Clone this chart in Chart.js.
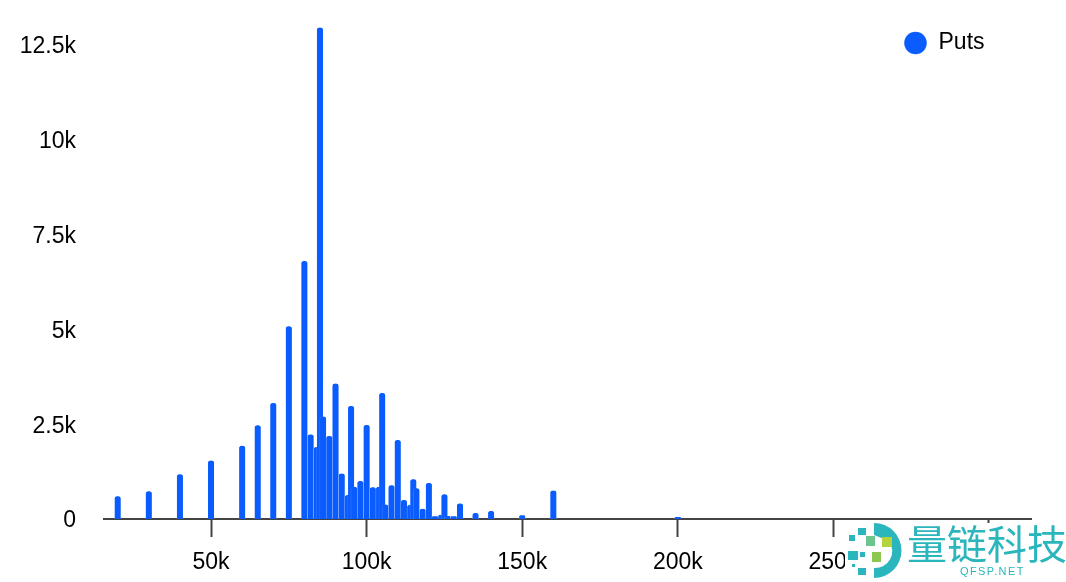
<!DOCTYPE html>
<html><head><meta charset="utf-8">
<script src="https://cdn.jsdelivr.net/npm/chart.js@4"></script>
<style>
html,body{margin:0;padding:0;background:#fff;overflow:hidden}
#wrap{position:relative;width:1066px;height:582px}
#wm{position:absolute;left:845px;top:523px;width:221px;height:59px;background:#fff}
#wm svg{position:absolute;left:1px;top:0}
#cn{position:absolute;left:62px;top:-8px;font:400 40px/54px "Noto Sans CJK SC";color:#2ab6bc;white-space:nowrap}
#en{position:absolute;left:115px;top:41px;font:400 11px/14px "Liberation Sans";letter-spacing:1.4px;color:#2ab6bc;white-space:nowrap}
</style></head><body>
<div id="wrap"><canvas id="c" width="1066" height="582"></canvas>
<div id="wm">
<svg width="60" height="59" viewBox="0 0 60 59">
<path d="M28 0 A27 27 0 0 1 28 55 L28 45 A17 17 0 0 0 43 18 L28 12 Z" fill="#2ab6bc"/>
<rect x="12" y="5" width="8" height="7" fill="#2ab6bc"/>
<rect x="3" y="12" width="6" height="6" fill="#2ab6bc"/>
<rect x="20" y="13" width="9" height="10" fill="#6cc58a"/>
<rect x="36" y="14" width="10" height="10" fill="#b5d33d"/>
<rect x="2" y="28" width="10" height="9" fill="#2ab6bc"/>
<rect x="14" y="29" width="5" height="5" fill="#2ab6bc"/>
<rect x="26" y="29" width="9" height="10" fill="#8cc850"/>
<rect x="12" y="45" width="8" height="7" fill="#2ab6bc"/>
<rect x="6" y="41" width="3" height="3" fill="#2ab6bc"/>
</svg>
<div id="cn">量链科技</div><div id="en">QFSP.NET</div>
</div></div>
<script>
const strikes=[20,30,40,50,60,65,70,75,80,82,84,85,86,88,90,92,94,95,96,98,100,102,104,105,106,108,110,112,114,115,116,118,120,122,124,125,126,128,130,135,140,150,160,200];
const puts=[600,730,1180,1540,1930,2470,3060,5080,6800,2230,1900,12960,2700,2190,3570,1200,630,2980,850,1000,2480,840,850,3320,380,890,2080,500,370,1050,810,270,950,70,110,650,80,70,410,160,210,100,750,50];
const seriesName='Puts';
const xTickValues=[50000,100000,150000,200000,250000,300000];
const yTickValues=[0,2500,5000,7500,10000,12500];
const points=strikes.map((s,i)=>({x:s*1000,y:puts[i]}));
const fmt=v=>v===0?'0':(v/1000)+'k';
const setTicks=vals=>s=>{s.ticks=vals.map(value=>({value}));};
Chart.defaults.font.family='"Liberation Sans"';
new Chart(document.getElementById('c'),{
 type:'bar',
 data:{datasets:[{label:seriesName,data:points,backgroundColor:'#0a5cff',borderColor:'rgba(255,255,255,0.35)',borderWidth:{left:0.5,right:0.5,top:0,bottom:0},
   barThickness:6.4,borderRadius:{topLeft:3,topRight:3,bottomLeft:0,bottomRight:0},borderSkipped:'bottom'}]},
 plugins:[{id:'legendPos',afterLayout(ch){ch.legend.left=892;ch.legend.right=1020;ch.legend.top=19.5;ch.legend.bottom=66;}}],
 options:{responsive:false,animation:false,devicePixelRatio:1,
  layout:{padding:{left:0,top:26,right:35,bottom:0}},
  plugins:{tooltip:{enabled:false},
   legend:{position:'chartArea',align:'start',labels:{usePointStyle:true,pointStyle:'circle',font:{size:23},color:'#000',padding:12,boxWidth:23,boxHeight:16}}},
  scales:{
   x:{type:'linear',min:15600,max:313500,offset:false,afterBuildTicks:setTicks(xTickValues),
    ticks:{callback:fmt,color:'#000',font:{size:23},padding:12,maxRotation:0,autoSkip:false},
    grid:{display:true,offset:false,drawOnChartArea:false,drawTicks:true,tickLength:18,tickWidth:2,tickColor:'#444'},
    border:{display:true,color:'#444',width:2},
    afterFit(s){s.height=63;s.paddingLeft=0;s.paddingRight=0;}},
   y:{type:'linear',min:0,max:13000,afterBuildTicks:setTicks(yTickValues),
    ticks:{callback:fmt,color:'#000',font:{size:23},padding:20,labelOffset:2},
    grid:{display:false},border:{display:false},
    afterFit(s){s.width=104;s.paddingTop=0;s.paddingBottom=0;}}
  }}
});
</script></body></html>
